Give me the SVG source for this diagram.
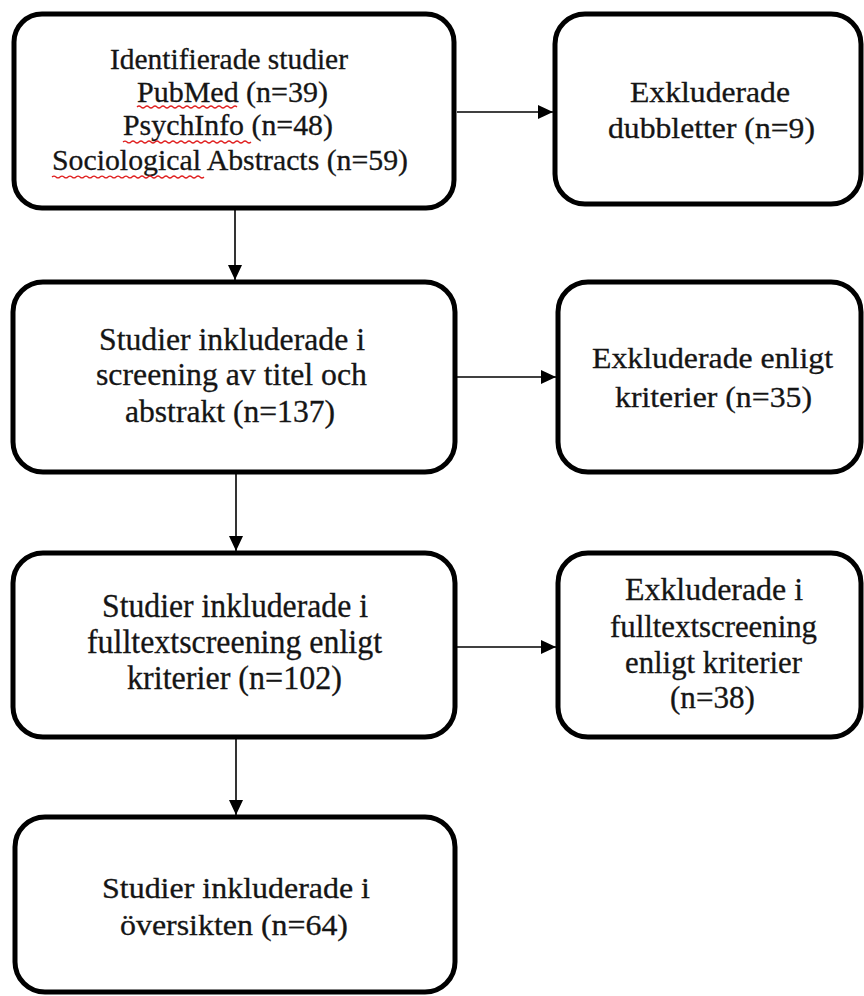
<svg xmlns="http://www.w3.org/2000/svg" width="864" height="996" viewBox="0 0 864 996">
<style>
.box{fill:#fff;stroke:#000;stroke-width:5}
.t{font-family:'Liberation Serif','DejaVu Serif',serif;fill:#151515;stroke:#151515;stroke-width:0.3}
.s29{font-size:29px}
.s30{font-size:30px}
.s31{font-size:31px}
.s32{font-size:32px}
.s33{font-size:33px}
.conn{stroke:#000;stroke-width:1.6;fill:none}
.sq{stroke:#e02020;stroke-width:1.2;fill:none}
</style>
<defs>
<marker id="ah" markerUnits="userSpaceOnUse" markerWidth="16" markerHeight="14" refX="15" refY="7" orient="auto">
<path d="M0,0 L15,7 L0,14 Z" fill="#000"/>
</marker>
</defs>
<rect width="864" height="996" fill="#fff"/>
<g id="connectors">
<line class="conn" x1="235" y1="210" x2="235" y2="280" marker-end="url(#ah)"/>
<line class="conn" x1="457" y1="112" x2="553" y2="112" marker-end="url(#ah)"/>
<line class="conn" x1="236" y1="474" x2="236" y2="551" marker-end="url(#ah)"/>
<line class="conn" x1="457" y1="377" x2="556" y2="377" marker-end="url(#ah)"/>
<line class="conn" x1="236" y1="739" x2="236" y2="815" marker-end="url(#ah)"/>
<line class="conn" x1="457" y1="647" x2="556" y2="647" marker-end="url(#ah)"/>
</g>
<g font-family="Liberation Serif, DejaVu Serif, serif">
<g id="n1">
<rect class="box" x="14" y="14" width="440" height="194" rx="28"/>
<text class="t s29" x="110" y="69" textLength="238" lengthAdjust="spacingAndGlyphs">Identifierade studier</text>
<text class="t s29" x="137" y="102" textLength="191" lengthAdjust="spacingAndGlyphs">PubMed (n=39)</text>
<text class="t s29" x="123" y="135" textLength="210" lengthAdjust="spacingAndGlyphs">PsychInfo (n=48)</text>
<text class="t s29" x="52" y="170" textLength="356" lengthAdjust="spacingAndGlyphs">Sociological Abstracts (n=59)</text>
<path class="sq" d="M137,107 q2,-2 4,0 t4,0 t4,0 t4,0 t4,0 t4,0 t4,0 t4,0 t4,0 t4,0 t4,0 t4,0 t4,0 t4,0 t4,0 t4,0 t4,0 t4,0 t4,0 t4,0 t4,0 t4,0 t4,0 t4,0 t4,0"/>
<path class="sq" d="M123,142 q2,-2 4,0 t4,0 t4,0 t4,0 t4,0 t4,0 t4,0 t4,0 t4,0 t4,0 t4,0 t4,0 t4,0 t4,0 t4,0 t4,0 t4,0 t4,0 t4,0 t4,0 t4,0 t4,0 t4,0 t4,0 t4,0 t4,0 t4,0 t4,0 t4,0 t4,0 t4,0 t4,0"/>
<path class="sq" d="M52,177 q2,-2 4,0 t4,0 t4,0 t4,0 t4,0 t4,0 t4,0 t4,0 t4,0 t4,0 t4,0 t4,0 t4,0 t4,0 t4,0 t4,0 t4,0 t4,0 t4,0 t4,0 t4,0 t4,0 t4,0 t4,0 t4,0 t4,0 t4,0 t4,0 t4,0 t4,0 t4,0 t4,0 t4,0 t4,0 t4,0 t4,0 t4,0 t4,0"/>
</g>
<g id="n2">
<rect class="box" x="555" y="14" width="306" height="190" rx="30"/>
<text class="t s30" x="630" y="102" textLength="160" lengthAdjust="spacingAndGlyphs">Exkluderade</text>
<text class="t s30" x="608" y="138" textLength="207" lengthAdjust="spacingAndGlyphs">dubbletter (n=9)</text>
</g>
<g id="n3">
<rect class="box" x="13" y="282" width="442" height="190" rx="30"/>
<text class="t s32" x="99" y="350" textLength="266" lengthAdjust="spacingAndGlyphs">Studier inkluderade i</text>
<text class="t s32" x="96" y="385" textLength="271" lengthAdjust="spacingAndGlyphs">screening av titel och</text>
<text class="t s32" x="125" y="422" textLength="210" lengthAdjust="spacingAndGlyphs">abstrakt (n=137)</text>
</g>
<g id="n4">
<rect class="box" x="558" y="282" width="303" height="190" rx="30"/>
<text class="t s30" x="592" y="368" textLength="241" lengthAdjust="spacingAndGlyphs">Exkluderade enligt</text>
<text class="t s30" x="615" y="407" textLength="197" lengthAdjust="spacingAndGlyphs">kriterier (n=35)</text>
</g>
<g id="n5">
<rect class="box" x="13" y="553" width="442" height="184" rx="30"/>
<text class="t s33" x="102" y="617" textLength="266" lengthAdjust="spacingAndGlyphs">Studier inkluderade i</text>
<text class="t s33" x="87" y="653" textLength="295" lengthAdjust="spacingAndGlyphs">fulltextscreening  enligt</text>
<text class="t s33" x="127" y="689" textLength="215" lengthAdjust="spacingAndGlyphs">kriterier (n=102)</text>
</g>
<g id="n6">
<rect class="box" x="558" y="553" width="303" height="184" rx="30"/>
<text class="t s31" x="625" y="600" textLength="178" lengthAdjust="spacingAndGlyphs">Exkluderade i</text>
<text class="t s31" x="610" y="637" textLength="207" lengthAdjust="spacingAndGlyphs">fulltextscreening</text>
<text class="t s31" x="625" y="673" textLength="177" lengthAdjust="spacingAndGlyphs">enligt kriterier</text>
<text class="t s31" x="670" y="708" textLength="85" lengthAdjust="spacingAndGlyphs">(n=38)</text>
</g>
<g id="n7">
<rect class="box" x="15" y="817" width="440" height="175" rx="30"/>
<text class="t s30" x="102" y="898" textLength="268" lengthAdjust="spacingAndGlyphs">Studier inkluderade i</text>
<text class="t s30" x="120" y="935" textLength="228" lengthAdjust="spacingAndGlyphs">översikten (n=64)</text>
</g>
</g>
</svg>
